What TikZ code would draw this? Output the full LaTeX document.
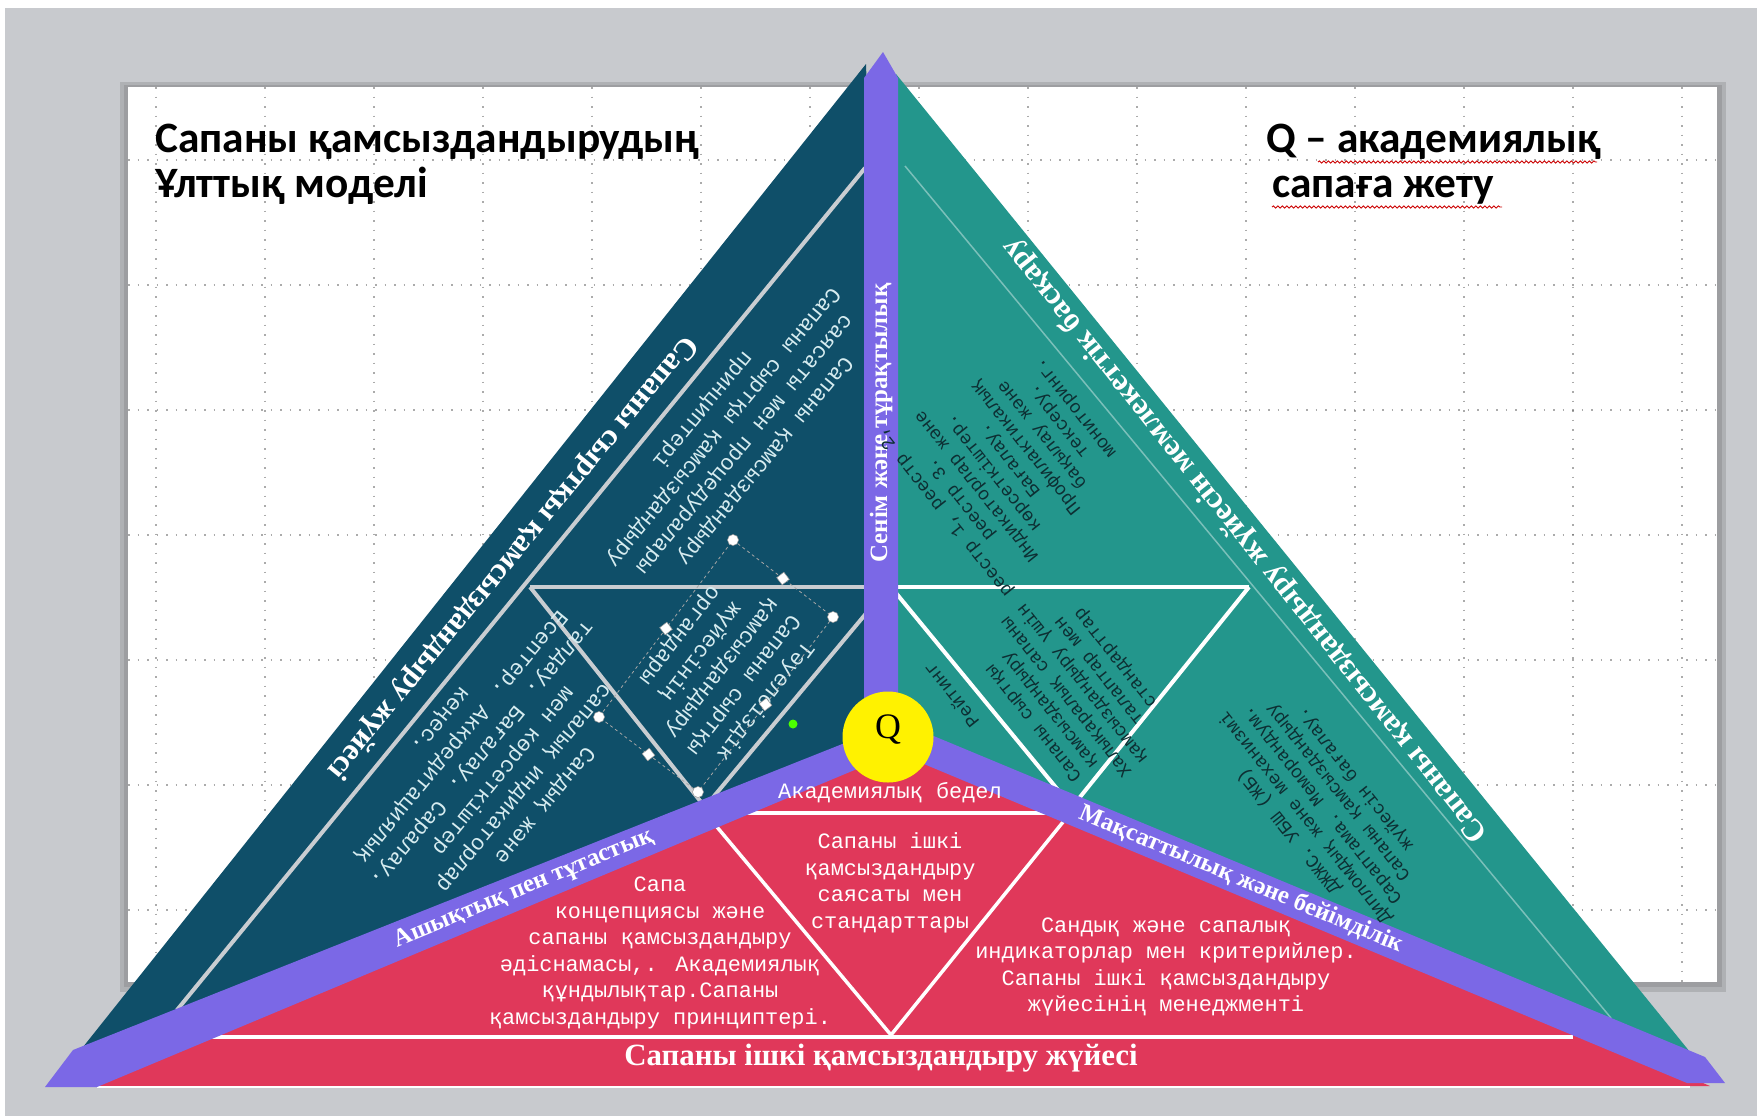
\documentclass[tikz,border=0pt]{standalone}
\usepackage{fontspec}
\setmainfont{Liberation Serif}
\newfontfamily\titlefont{Carlito}
\newfontfamily\monofont{Liberation Mono}
\usetikzlibrary{decorations.pathmorphing,calc}
\definecolor{bgc}{HTML}{C8CACE}
\definecolor{darkb}{HTML}{0F4F69}
\definecolor{tealc}{HTML}{23968C}
\definecolor{redc}{HTML}{E0385A}
\definecolor{purp}{HTML}{7B68E6}
\definecolor{lightc}{HTML}{D6ECF0}
\definecolor{darktxt}{HTML}{0D2F33}
\definecolor{greyln}{HTML}{C9CDD1}
\begin{document}
\begin{tikzpicture}[x=1bp,y=-1bp,
  titletxt/.style={font=\titlefont\bfseries\fontsize{43.5}{47}\selectfont, text=black, inner sep=0},
  bandtxt/.style={font=\bfseries\fontsize{31}{34}\selectfont, text=white, inner sep=0},
  bartxt/.style={font=\bfseries\fontsize{25}{28}\selectfont, text=white, inner sep=0},
  monow/.style={font=\monofont\fontsize{22}{26.6}\selectfont, text=white, align=center, inner sep=0},
  monolb/.style={font=\monofont\fontsize{22}{27}\selectfont, text=lightc, align=center, inner sep=0},
  monodk/.style={font=\monofont\fontsize{18.5}{21}\selectfont, text=darktxt, align=center, inner sep=0},
  gridln/.style={black!60, line width=1.3bp, dash pattern=on 1.5bp off 8bp, opacity=0.55},
  innerdark/.style={draw=greyln, line width=4bp},
  innerwhite/.style={draw=white, line width=4bp},
  squig/.style={draw=red!80!black, line width=0.9bp, decorate, decoration={snake, amplitude=1.1bp, segment length=4.5bp}},
  handlec/.style={circle, fill=white, draw=black!40, line width=0.5bp, inner sep=0, minimum size=11bp},
  handles/.style={rectangle, fill=white, draw=black!40, line width=0.5bp, inner sep=0, minimum size=9bp}
]
\useasboundingbox (0,0) rectangle (1757,1116);
\fill[bgc] (0,0) rectangle (1757,1116);
\fill[white] (0,0) rectangle (1757,8);
\fill[white] (0,0) rectangle (5,1116);
% slide with shadow
\fill[black, opacity=0.12] (120,82) rectangle (1726,992);
\fill[black, opacity=0.10] (124,85) rectangle (1722,987);
\fill[white] (128,87) rectangle (1717,982);
% grid
\begin{scope}
\clip (128,87) rectangle (1717,982);
\foreach \gx in {156,265,374,483,592,701,810,919,1028,1137,1246,1355,1464,1573,1682}
  \draw[gridln] (\gx,87) -- (\gx,982);
\foreach \gy in {160,285,410,535,660,785,910}
  \draw[gridln] (128,\gy) -- (1717,\gy);
\end{scope}

% titles
\node[titletxt, anchor=base west] (t1) at (155,152) {Сапаны қамсыздандырудың};
\node[titletxt, anchor=base west] (t2) at (155,197) {Ұлттық моделі};
\node[titletxt, anchor=base west] (t3) at (1266,152) {Q – академиялық};
\node[titletxt, anchor=base west] (t4) at (1272,197) {сапаға жету};
\draw[squig] (1318,162) -- (1597,162);
\draw[squig] (1272,207) -- (1502,207);

% big triangles
\fill[darkb] (866,64) -- (83,1047) -- (888,737) -- cycle;
\fill[tealc] (896,74) -- (1690,1052) -- (888,737) -- cycle;
\fill[redc] (888,737) -- (70,1086) -- (1710,1086) -- cycle;

% inner lines: dark
\draw[innerdark] (177,1010) -- (865,168);
\draw[innerdark] (530,587) -- (864,587);
\draw[innerdark] (530,587) -- (705,807);
\draw[innerdark] (705,807) -- (888,587);
% inner lines: teal
\draw[tealc!60!white, line width=1.5bp] (905,166) -- (1611,1018);
\draw[innerwhite] (891,587) -- (1249,587);
\draw[innerwhite] (891,587) -- (1072,807);
\draw[innerwhite] (1249,587) -- (1072,807);
% inner lines: red
\draw[innerwhite, line width=3.5bp] (745,813) -- (1050,813);
\draw[innerwhite, line width=3.5bp] (717,827) -- (891,1035);
\draw[innerwhite, line width=3.5bp] (891,1035) -- (1063,822);
\draw[innerwhite, line width=3.5bp] (207,1037) -- (1573,1037);
\draw[white, line width=2bp] (97,1087) -- (1690,1087);

% bars
\fill[purp] (864,700) -- (864,78) -- (883,52) -- (898,78) -- (898,700) -- cycle;
\fill[purp] (880,729) -- (73,1050) -- (45,1087) -- (97,1087) -- (888,756) -- cycle;
\fill[purp] (888,717) -- (1705,1057) -- (1725,1083) -- (1687,1083) -- (888,749) -- cycle;

% Q circle
\node[circle, fill=yellow, minimum size=91bp, inner sep=0] (q) at (888,737) {};
\node[font=\fontsize{36}{36}\selectfont, text=black] (qt) at (888,730) {Q};

% band and bar texts
\node[bandtxt, rotate=230.6] (lband) at (512,557) {Сапаны сыртқы қамсыздандыру жүйесі};
\node[bandtxt, rotate=128.5] (rband) at (1245,540) {Сапаны қамсыздандыру жүйесін мемлекеттік басқару};
\node[bartxt, rotate=90] (vbar) at (881,423) {Сенім және тұрақтылық};
\node[bartxt, rotate=22.5] (lbar) at (524,889) {Ашықтық пен тұтастық};
\node[bartxt, rotate=-22.6] (rbar) at (1241,879) {Мақсаттылық және бейімділік};
\node[bandtxt] (bottom) at (881,1058) {Сапаны ішкі қамсыздандыру жүйесі};

% red texts
\node[monow] (acad) at (890,793) {Академиялық бедел};
\node[monow] (rc) at (890,883) {Сапаны ішкі\\қамсыздандыру\\саясаты мен\\стандарттары};
\node[monow] (rl) at (660,953) {Сапа\\концепциясы және\\сапаны қамсыздандыру\\әдіснамасы,. Академиялық\\құндылықтар.Сапаны\\қамсыздандыру принциптері.};
\node[monow] (rr) at (1166,967) {Сандық және сапалық\\индикаторлар мен критерийлер.\\Сапаны ішкі қамсыздандыру\\жүйесінің менеджменті};

% dark blue texts
\node[monolb, rotate=230.6] (dtop) at (733,435) {Сапаны қамсыздандыру\\саясаты мен процедуралары\\Сапаны сыртқы қамсыздандыру\\принциптері};
\node[monolb, rotate=230.6] (dlow) at (492,762) {Сандық және\\сапалық индикаторлар\\мен көрсеткіштер\\талдау. Бағалау. Саралау.\\Есептер. Аккредитациялық\\кеңес.};
\node[monolb, rotate=232.4] (dmid) at (722,668) {Тәуелсіздік\\Сапаны сыртқы\\қамсыздандыру\\жүйесінің\\органдары};
% selection frame
\coordinate (s1) at (733,540);
\coordinate (s2) at (833,617);
\coordinate (s3) at (698,792);
\coordinate (s4) at (599,717);
\draw[black!35, dashed, line width=0.8bp] (s1) -- (s2) -- (s3) -- (s4) -- cycle;
\foreach \c in {s1,s2,s3,s4} \node[handlec] at (\c) {};
\node[handles, rotate=37.6] (m1) at ($(s1)!0.5!(s2)$) {};
\node[handles, rotate=37.6] (m2) at ($(s2)!0.5!(s3)$) {};
\node[handles, rotate=37.6] (m3) at ($(s3)!0.5!(s4)$) {};
\node[handles, rotate=37.6] (m4) at ($(s4)!0.5!(s1)$) {};
\node[circle, fill=green!60!lime, inner sep=0, minimum size=9bp] (rot) at (793,724) {};

% teal texts
\node[monodk, rotate=128.5] (ttop) at (1010,460) {реестр 1, реестр 2,\\реестр 3.\\Индикаторлар және\\көрсеткіштер.\\Бағалау.\\Профилактикалық\\бақылау және\\тексеру.\\мониторинг.};
\node[monodk, rotate=128.5] (tmid) at (1075,690) {Сапаны сыртқы\\қамсыздандыру\\Халықаралық сапаны\\қамсыздандыру үшін\\талаптар мен\\стандарттар};
\node[monodk, rotate=128.5] (trat) at (951,695) {Рейтинг};
\node[monodk, rotate=128.5] (tlow) at (1322,805) {ДЖЖС. УБШ (ЖБ)\\Дипломдық және механизмі\\Сараптама. Меморандум.\\Сапаны қамсыздандыру\\жүйесін бағалау.};
\end{tikzpicture}
\end{document}
